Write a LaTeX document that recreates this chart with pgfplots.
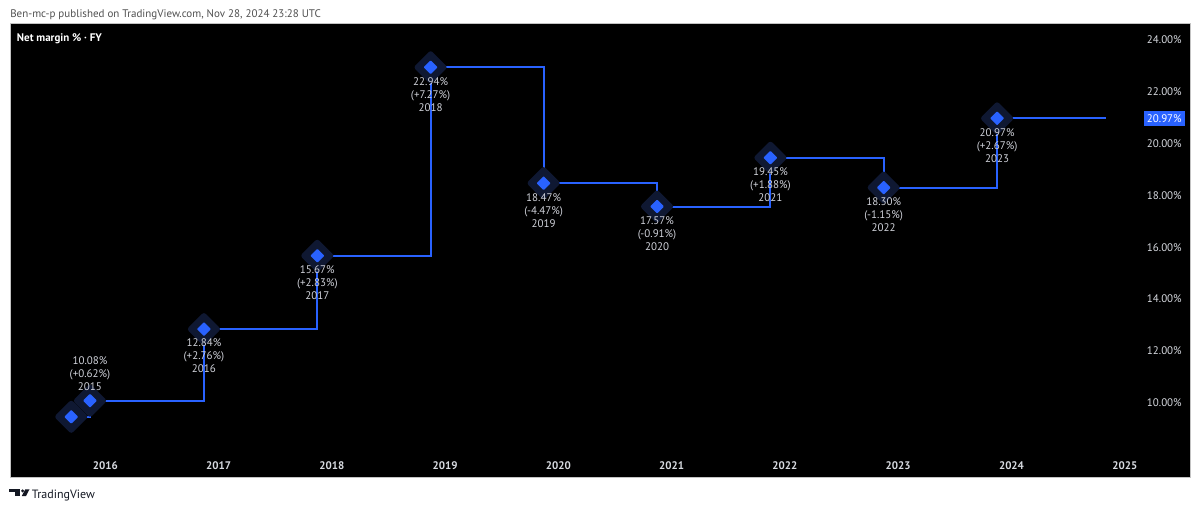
\documentclass[border=0pt]{standalone}
\usepackage{fontspec}
\setmainfont{PT Sans}
\usepackage{pgfplots}
\pgfplotsset{compat=1.18}
\definecolor{tvblue}{HTML}{2962FF}
\definecolor{halo}{RGB}{15,24,50}
\definecolor{lbl}{RGB}{208,210,218}
\definecolor{tickc}{RGB}{215,218,224}
\definecolor{hdr}{RGB}{80,80,80}
\definecolor{tvdark}{RGB}{19,23,34}
\pgfdeclareplotmark{rdiamond}{%
  \pgfpathmoveto{\pgfqpoint{0.5\pgfplotmarksize}{0.5\pgfplotmarksize}}%
  \pgfpathlineto{\pgfqpoint{\pgfplotmarksize}{0pt}}%
  \pgfpathlineto{\pgfqpoint{0pt}{-\pgfplotmarksize}}%
  \pgfpathlineto{\pgfqpoint{-\pgfplotmarksize}{0pt}}%
  \pgfpathlineto{\pgfqpoint{0pt}{\pgfplotmarksize}}%
  \pgfpathclose
  \pgfusepathqfillstroke
}
\begin{document}
\begin{tikzpicture}[x=0.75pt,y=0.75pt]
\useasboundingbox (0,0) rectangle (1200,511);
\fill[white] (0,0) rectangle (1200,511);
\begin{axis}[
  at={(7.5pt,25.5pt)}, anchor=south west,
  scale only axis, width=885pt, height=340.5pt,
  xmin=2015.159, xmax=2025.576, ymin=7.138, ymax=24.647,
  axis background/.style={fill=black},
  axis line style={draw={rgb,255:red,195;green,195;blue,195}, line width=0.6pt},
  tick style={draw=none}, major tick length=0pt,
  /pgf/number format/assume math mode=true,
  ticklabel style={font=\fontsize{8.25pt}{10pt}\selectfont},
  xtick={2016,2017,2018,2019,2020,2021,2022,2023,2024,2025},
  xticklabels={2016,2017,2018,2019,2020,2021,2022,2023,2024,2025},
  xticklabel style={anchor=base, yshift=6pt, inner sep=0pt, text=tickc, font=\fontsize{8.25pt}{10pt}\selectfont\bfseries},
  ytick={10,12,14,16,18,20,22,24},
  yticklabel pos=right,
  yticklabel={\pgfmathprintnumber[fixed,fixed zerofill,precision=2]{\tick}\%},
  yticklabel style={anchor=east, xshift=-3.75pt, inner xsep=2.25pt, inner ysep=0pt, text=tickc},
  extra y ticks={20.97},
  extra y tick style={yticklabel style={fill=tvblue, text=white, minimum height=11.25pt, inner ysep=1pt}},
  every node near coord/.append style={font=\fontsize{8.25pt}{9.75pt}\selectfont, text=lbl, align=center, inner sep=0pt},
]
% halos
\addplot[only marks, mark=rdiamond, mark size=10pt, mark options={fill=halo, draw=halo, line width=4pt, line join=round}] coordinates {
(2015.700,9.46) (2015.865,10.08) (2016.871,12.84) (2017.872,15.67) (2018.872,22.94)
(2019.870,18.47) (2020.871,17.57) (2021.872,19.45) (2022.872,18.30) (2023.873,20.97)};
% step line
\addplot[const plot, tvblue, line width=1.5pt, mark=none] coordinates {
(2015.700,9.46) (2015.865,10.08) (2016.871,12.84) (2017.872,15.67) (2018.872,22.94)
(2019.870,18.47) (2020.871,17.57) (2021.872,19.45) (2022.872,18.30) (2023.873,20.97) (2024.835,20.97)};
% diamonds
\addplot[only marks, mark=rdiamond, mark size=4.4pt, mark options={fill=tvblue, draw=tvblue, line width=1.2pt, line join=round}] coordinates {(2015.700,9.46)};
\addplot[only marks, mark=rdiamond, mark size=4.4pt, mark options={fill=tvblue, draw=tvblue, line width=1.2pt, line join=round},
  point meta=explicit symbolic, nodes near coords,
  every node near coord/.append style={anchor=south, yshift=7pt}] coordinates {
(2015.865,10.08) [{10.08\%\\(+0.62\%)\\2015}]};
\addplot[only marks, mark=rdiamond, mark size=4.4pt, mark options={fill=tvblue, draw=tvblue, line width=1.2pt, line join=round},
  point meta=explicit symbolic, nodes near coords,
  every node near coord/.append style={anchor=north, yshift=-6.9pt}] coordinates {
(2016.871,12.84) [{12.84\%\\(+2.76\%)\\2016}]
(2017.872,15.67) [{15.67\%\\(+2.83\%)\\2017}]
(2018.872,22.94) [{22.94\%\\(+7.27\%)\\2018}]
(2019.870,18.47) [{18.47\%\\(-4.47\%)\\2019}]
(2020.871,17.57) [{17.57\%\\(-0.91\%)\\2020}]
(2021.872,19.45) [{19.45\%\\(+1.88\%)\\2021}]
(2022.872,18.30) [{18.30\%\\(-1.15\%)\\2022}]
(2023.873,20.97) [{20.97\%\\(+2.67\%)\\2023}]};
\end{axis}
\node[anchor=base west, inner sep=0pt, text=hdr, font=\fontsize{8.25pt}{10pt}\selectfont] at (10,493) {Ben-mc-p published on TradingView.com, Nov 28, 2024 23:28 UTC};
\node[anchor=base west, inner sep=0pt, text=white, font=\fontsize{8.25pt}{10pt}\selectfont\bfseries] at (16.7,469.3) {Net margin \% · FY};
\node[anchor=base west, inner sep=0pt, text=tvdark, font=\fontsize{9pt}{11pt}\selectfont] at (31.7,13) {TradingView};
\fill[tvdark] (9.3,18.7) rectangle (20,21.7);
\fill[tvdark] (14.8,15) rectangle (20,21.7);
\fill[tvdark] (22.6,20.1) circle (1.6);
\fill[tvdark] (25.3,21.7) -- (29.5,21.7) -- (26,15) -- (21.8,15) -- cycle;
\end{tikzpicture}
\end{document}
